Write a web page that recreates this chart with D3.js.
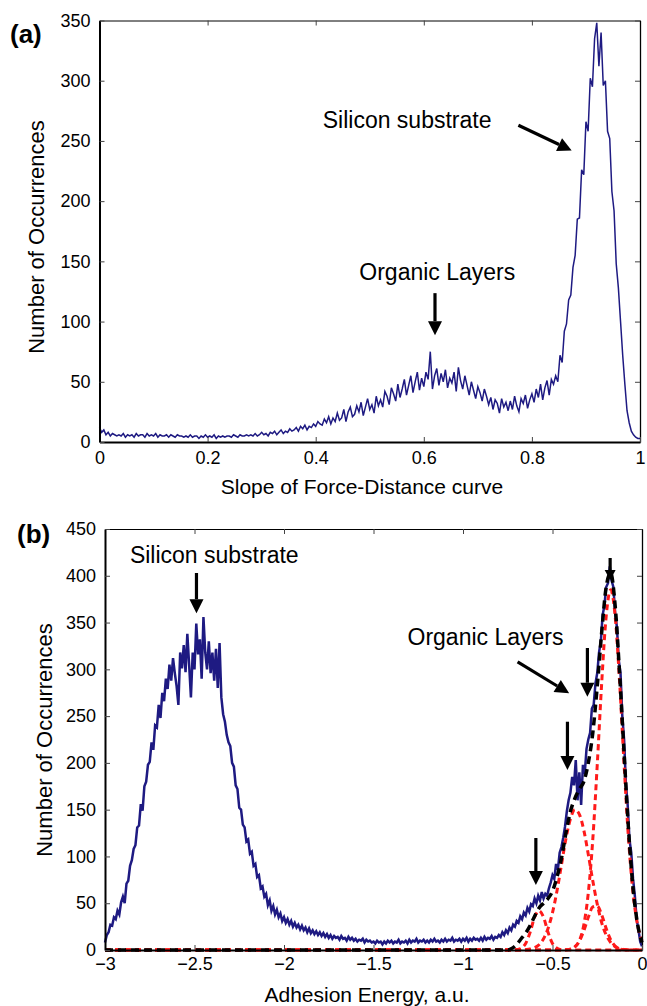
<!DOCTYPE html>
<html>
  <head>
    <meta charset="utf-8">
    <style>
      body { margin: 0; background: #fff; }
      svg text { font-family: "Liberation Sans", Arial, Helvetica, sans-serif; fill: #000; }
    </style>
  </head>
  <body>
    <script src="https://d3js.org/d3.v7.min.js"></script>
    <script>
      // (a) slope histogram, bins of 0.004 from 0 to 1
      var slopeStart = 0, slopeStep = 0.004;
      var slopeCounts = [
        12,8,10,6,8,5,7,6,5,6,
        5,7,4,6,5,6,4,7,5,6,
        6,4,7,5,6,5,7,4,6,5,
        5,6,4,6,5,4,6,5,5,4,
        5,4,6,4,5,5,3,5,4,6,
        4,5,4,6,3,5,4,5,4,5,
        5,4,6,5,4,6,5,5,6,5,
        6,5,7,5,6,8,6,7,5,8,
        7,9,6,8,10,7,9,8,11,9,
        10,12,9,13,11,14,10,13,12,15,
        13,17,15,14,19,16,21,15,20,17,
        24,18,20,27,17,25,29,21,23,30,
        25,33,22,29,36,27,31,24,38,30,
        35,29,42,38,31,45,40,34,48,37,
        44,52,39,47,55,41,50,58,43,53,
        46,58,52,75,44,55,61,47,57,50,
        60,45,53,49,58,42,62,51,44,55,
        47,39,50,43,36,46,41,34,44,38,
        31,37,27,35,32,24,36,29,33,26,
        34,27,38,30,25,36,32,39,28,35,
        40,33,44,37,48,35,45,51,39,52,
        48,55,50,72,66,92,98,118,122,145,
        155,185,186,226,222,266,258,302,295,335,
        348,312,340,296,300,258,252,208,192,148,
        128,100,72,48,26,16,9,6,4,3,
        3
      ];

      // (b) adhesion histogram, bins of 0.01 from -3 to 0
      var adhStart = -3, adhStep = 0.01;
      var adhCounts = [
        8,16,19,27,26,35,33,42,38,51,
        57,50,71,74,90,96,108,112,131,133,
        156,149,175,180,198,201,222,214,240,238,
        262,248,275,266,290,279,305,288,312,296,
        282,262,318,301,326,297,338,305,270,318,
        300,349,316,332,290,356,318,300,330,296,
        318,288,322,280,328,270,252,244,230,222,
        218,200,196,176,172,152,150,134,131,116,
        118,103,105,90,92,78,80,66,68,57,
        60,48,53,42,47,38,43,35,39,31,
        35,29,33,27,31,25,29,24,27,22,
        26,21,24,19,23,18,21,17,20,16,
        19,15,18,14,17,13,16,12,15,13,
        14,11,15,12,13,10,14,11,13,10,
        12,9,11,10,12,8,11,9,10,8,
        9,7,10,8,9,6,9,7,10,8,
        10,7,9,8,11,7,9,8,10,7,
        11,8,10,9,12,8,10,9,11,8,
        10,8,11,9,12,9,10,8,11,9,
        12,9,11,10,13,9,11,10,12,9,
        12,10,13,9,12,10,13,11,12,10,
        13,10,14,11,13,12,15,11,14,13,
        16,14,19,16,21,18,24,21,27,25,
        31,29,36,33,40,37,45,41,49,47,
        55,50,58,53,62,55,60,58,66,72,
        80,76,92,86,104,110,120,132,148,160,
        168,185,176,203,160,190,155,198,188,215,
        225,232,258,262,285,296,318,330,358,368,
        388,392,410,395,388,360,345,310,296,250,
        225,178,155,118,104,76,58,33,22,9,4
      ];

      // fitted peaks (red) and their sum (black)
      var fitX = [-3,
        -0.75,-0.725,-0.7,-0.675,-0.65,-0.625,-0.6,-0.575,-0.55,-0.525,
        -0.5,-0.475,-0.45,-0.425,-0.4,-0.375,-0.35,-0.325,-0.3,-0.275,
        -0.25,-0.225,-0.2,-0.175,-0.15,-0.125,-0.1,-0.075,-0.05,-0.025,0];
      var fitPeak1 = [0, 0,0,0.3,1.8,7,19,35,42,35,19, 7,1.8,0.3,0,0,0,0,0,0,0, 0,0,0,0,0,0,0,0,0,0,0];
      var fitPeak2 = [0, 0,0,0,0,0.4,1,2.4,5.6,12,23, 40,63,91,119,140,150,145,128,102,74, 49,29,16,8,3.4,1.4,0.5,0,0,0,0];
      var fitPeak3 = [0, 0,0,0,0,0,0,0,0,0,0, 0,0,0,0.2,1,3.4,9.5,20.6,35,46, 47,37.5,23,11,4.3,1.3,0.3,0,0,0,0];
      var fitPeak4 = [0, 0,0,0,0,0,0,0,0,0,0, 0,0,0,0.2,1,3.4,10,27,61,118, 198,286,357,385,357,286,198,118,61,27,10];
      var fitSum = [0, 0,2,6,12,18,26,36,45,50,55, 63,78,98,125,148,162,172,180,200,232, 282,340,388,403,368,295,210,128,66,28,8];

      var slopeTicks = [0, 0.2, 0.4, 0.6, 0.8, 1];
      var adhTicks = [-3, -2.5, -2, -1.5, -1, -0.5, 0];
      var countTicksA = [0, 50, 100, 150, 200, 250, 300, 350];
      var countTicksB = [0, 50, 100, 150, 200, 250, 300, 350, 400, 450];

      // annotations in data units: [x1, y1, x2(tip), y2(tip)]
      var arrowsA = [[0.775, 263, 0.8736, 242], [0.6207, 123.6, 0.6207, 88.7]];
      var notesA = [["Silicon substrate", 0.413, 261], ["Organic Layers", 0.4807, 134.4]];
      var arrowsB = [[-2.489, 403, -2.489, 360], [-0.695, 308, -0.407, 274.4],
        [-0.305, 322.8, -0.305, 270.7], [-0.4165, 244, -0.4165, 192.4],
        [-0.593, 119.7, -0.593, 69.5], [-0.178, 419, -0.178, 395.5]];
      var notesB = [["Silicon substrate", -2.861, 413.6], ["Organic Layers", -1.31, 326]];

      var blue = "#1e1a82";

      var svg = d3.select("body").append("svg")
        .attr("width", 647).attr("height", 1006);

      function boxAxes(x, y, xTicks, yTicks, xPad, xFmt) {
        var r = x.range(), t = y.range();
        svg.append("g").attr("transform", "translate(0," + t[1] + ")")
          .call(d3.axisTop(x).tickValues(xTicks).tickSizeInner(-5).tickSizeOuter(0).tickFormat(""))
          .call(style, 1);
        svg.append("g").attr("transform", "translate(" + r[1] + ",0)")
          .call(d3.axisRight(y).tickValues(yTicks).tickSizeInner(-5).tickSizeOuter(0).tickFormat(""))
          .call(style, 1.3);
        svg.append("g").attr("transform", "translate(0," + t[0] + ")")
          .call(d3.axisBottom(x).tickValues(xTicks).tickSizeInner(-5).tickSizeOuter(0).tickPadding(xPad).tickFormat(xFmt))
          .call(style, 2);
        svg.append("g").attr("transform", "translate(" + r[0] + ",0)")
          .call(d3.axisLeft(y).tickValues(yTicks).tickSizeInner(-5).tickSizeOuter(0).tickPadding(9))
          .call(style, 2);
      }

      function style(g, w) {
        g.select(".domain").style("stroke", "#000").style("stroke-width", w);
        g.selectAll(".tick line").style("stroke", "#444").style("stroke-width", 1);
        g.selectAll(".tick text").style("font-size", "18px").style("font-family", "'Liberation Sans', Arial, sans-serif").attr("fill", "#000");
      }

      function drawArrow(p1, p2, headLen, headHalf) {
        var dx = p2[0] - p1[0], dy = p2[1] - p1[1];
        var len = Math.sqrt(dx * dx + dy * dy);
        var ux = dx / len, uy = dy / len;
        var bx = p2[0] - ux * headLen, by = p2[1] - uy * headLen;
        svg.append("line")
          .attr("x1", p1[0]).attr("y1", p1[1]).attr("x2", bx).attr("y2", by)
          .style("stroke", "#000").style("stroke-width", 3.2);
        svg.append("path")
          .attr("d", "M" + p2[0] + "," + p2[1] +
            "L" + (bx - uy * headHalf) + "," + (by + ux * headHalf) +
            "L" + (bx + uy * headHalf) + "," + (by - ux * headHalf) + "Z")
          .style("fill", "#000");
      }

      function notes(x, y, arrows, texts) {
        texts.forEach(function(n) {
          svg.append("text").attr("x", x(n[1])).attr("y", y(n[2]))
            .style("font-size", "23px").text(n[0]);
        });
        arrows.forEach(function(a) {
          var p1 = [x(a[0]), y(a[1])], p2 = [x(a[2]), y(a[3])];
          var short = Math.abs(p2[1] - p1[1]) < 30 && Math.abs(p2[0] - p1[0]) < 5;
          drawArrow(p1, p2, short ? 10 : 14, short ? 5.5 : 7);
        });
      }

      // ---- panel (a)
      var xa = d3.scaleLinear().domain([0, 1]).range([99.5, 640]);
      var ya = d3.scaleLinear().domain([0, 350]).range([442, 20.5]);

      var lineA = d3.line()
        .x(function(d, i) { return xa(slopeStart + i * slopeStep); })
        .y(function(d) { return ya(d); });
      svg.append("path").datum(slopeCounts).attr("d", lineA)
        .style("fill", "none").style("stroke", blue).style("stroke-width", 1.5);

      boxAxes(xa, ya, slopeTicks, countTicksA, 9, d3.format("~g"));
      notes(xa, ya, arrowsA, notesA);

      svg.append("text").attr("x", 362).attr("y", 494).attr("text-anchor", "middle")
        .style("font-size", "21px").text("Slope of Force-Distance curve");
      svg.append("text").attr("transform", "translate(44,237) rotate(-90)").attr("text-anchor", "middle")
        .style("font-size", "22px").text("Number of Occurrences");
      svg.append("text").attr("x", 10).attr("y", 43)
        .style("font-size", "26px").style("font-weight", "bold").text("(a)");

      // ---- panel (b)
      var xb = d3.scaleLinear().domain([-3, 0]).range([105, 642]);
      var yb = d3.scaleLinear().domain([0, 450]).range([950, 529]);

      var lineB = d3.line()
        .x(function(d, i) { return xb(adhStart + i * adhStep); })
        .y(function(d) { return yb(d); });
      svg.append("path").datum(adhCounts).attr("d", lineB)
        .style("fill", "none").style("stroke", blue).style("stroke-width", 2.5);

      var fitLine = d3.line()
        .x(function(d, i) { return xb(fitX[i]); })
        .y(function(d) { return yb(d); })
        .curve(d3.curveMonotoneX);
      [fitPeak1, fitPeak2, fitPeak3, fitPeak4].forEach(function(p) {
        svg.append("path").datum(p).attr("d", fitLine)
          .style("fill", "none").style("stroke", "#ff1a1a").style("stroke-width", 3)
          .style("stroke-dasharray", "6,4");
      });
      svg.append("path").datum(fitSum).attr("d", fitLine)
        .style("fill", "none").style("stroke", "#000").style("stroke-width", 3.5)
        .style("stroke-dasharray", "8,5");

      boxAxes(xb, yb, adhTicks, countTicksB, 7, d3.format("~g"));
      notes(xb, yb, arrowsB, notesB);

      svg.append("text").attr("x", 367).attr("y", 1002).attr("text-anchor", "middle")
        .style("font-size", "21px").text("Adhesion Energy, a.u.");
      svg.append("text").attr("transform", "translate(52,740) rotate(-90)").attr("text-anchor", "middle")
        .style("font-size", "22px").text("Number of Occurrences");
      svg.append("text").attr("x", 17).attr("y", 543)
        .style("font-size", "26px").style("font-weight", "bold").text("(b)");
    </script>
  </body>
</html>
